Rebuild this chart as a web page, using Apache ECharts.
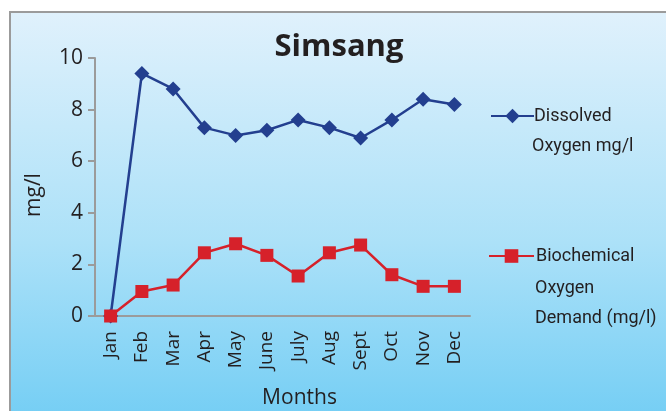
<!DOCTYPE html>
<html>
<head>
<meta charset="utf-8">
<script src="https://cdn.jsdelivr.net/npm/echarts@6/dist/echarts.min.js"></script>
<style>
  html, body { margin: 0; padding: 0; background: #fff; }
  #main { width: 666px; height: 411px; }
</style>
</head>
<body>
<div id="main"></div>
<script>
// data
var months = ['Jan', 'Feb', 'Mar', 'Apr', 'May', 'June', 'July', 'Aug', 'Sept', 'Oct', 'Nov', 'Dec'];
var dissolvedOxygen = [0, 9.4, 8.8, 7.3, 7.0, 7.2, 7.6, 7.3, 6.9, 7.6, 8.4, 8.2];
var bod = [0, 0.95, 1.2, 2.45, 2.8, 2.35, 1.55, 2.45, 2.75, 1.6, 1.15, 1.15];
var yTicks = [0, 2, 4, 6, 8, 10];

var txt = '#231f20';
var narrow = '"Roboto", sans-serif';
var sans = '"Open Sans", sans-serif';

// extra legend lines (legend shows the first line next to its marker)
function legendLine(text, x, y) {
    return {
        type: 'text',
        left: x,
        top: y,
        style: { text: text, fontFamily: narrow, fontSize: 18, fill: txt }
    };
}

var myChart = echarts.init(document.getElementById('main'));
var option = {
    animation: false,
    backgroundColor: '#fff',
    graphic: [
        {   // framed gradient panel
            type: 'rect',
            z: -10,
            shape: { x: 10, y: 12, width: 700, height: 460 },
            style: {
                fill: new echarts.graphic.LinearGradient(0, 0, 0, 1, [
                    { offset: 0, color: '#e0f1fc' },
                    { offset: 0.5, color: '#ace1f8' },
                    { offset: 1, color: '#63c8f3' }
                ]),
                stroke: '#9b9b9b',
                lineWidth: 2
            }
        },
        legendLine('Oxygen mg/l', 532, 137),
        legendLine('Oxygen', 535, 279),
        legendLine('Demand (mg/l)', 535, 309)
    ],
    title: {
        text: 'Simsang',
        left: 334,
        top: 27,
        textAlign: 'center',
        textStyle: { fontFamily: sans, fontWeight: 'bold', fontSize: 31, color: txt }
    },
    legend: [
        {
            data: ['Dissolved Oxygen mg/l'],
            left: 485,
            top: 102,
            itemWidth: 43,
            itemHeight: 18,
            itemGap: 0,
            formatter: function () { return 'Dissolved'; },
            textStyle: { fontFamily: narrow, fontSize: 18, color: txt, padding: [0, 0, 0, -5] }
        },
        {
            data: ['Biochemical Oxygen Demand (mg/l)'],
            left: 483,
            top: 242,
            itemWidth: 45,
            itemHeight: 17,
            itemGap: 0,
            formatter: function () { return 'Biochemical'; },
            textStyle: { fontFamily: narrow, fontSize: 18, color: txt, padding: [0, 0, 0, -3] }
        }
    ],
    grid: { left: 95, right: 196, top: 58, bottom: 95, outerBoundsMode: 'none', containLabel: false },
    xAxis: {
        type: 'category',
        data: months,
        name: 'Months',
        nameLocation: 'middle',
        nameGap: 72,
        nameTextStyle: { fontFamily: sans, fontSize: 21, color: txt, padding: [0, 0, 0, 34] },
        axisLine: { lineStyle: { color: '#9b9b9b', width: 2 } },
        axisTick: { show: false },
        axisLabel: {
            rotate: 90,
            margin: 15,
            fontFamily: sans,
            fontSize: 19,
            color: txt
        }
    },
    yAxis: {
        type: 'value',
        min: yTicks[0],
        max: yTicks[yTicks.length - 1],
        interval: 2,
        name: 'mg/l',
        nameLocation: 'middle',
        nameGap: 50,
        nameRotate: 90,
        nameTextStyle: { fontFamily: sans, fontSize: 21, color: txt, padding: [0, 16, 0, 0] },
        splitLine: { show: false },
        axisLine: { show: true, lineStyle: { color: '#9b9b9b', width: 2 } },
        axisTick: { show: true, length: 7, lineStyle: { color: '#9b9b9b', width: 2 } },
        axisLabel: { margin: 12, fontFamily: sans, fontSize: 21, color: txt }
    },
    series: [
        {
            name: 'Dissolved Oxygen mg/l',
            type: 'line',
            data: dissolvedOxygen,
            symbol: 'diamond',
            symbolSize: 15,
            lineStyle: { color: '#233f8f', width: 2.5 },
            itemStyle: { color: '#233f8f' }
        },
        {
            name: 'Biochemical Oxygen Demand (mg/l)',
            type: 'line',
            data: bod,
            symbol: 'rect',
            symbolSize: 13,
            lineStyle: { color: '#d6212a', width: 2.5 },
            itemStyle: { color: '#d6212a' }
        }
    ]
};
myChart.setOption(option);
</script>
</body>
</html>
